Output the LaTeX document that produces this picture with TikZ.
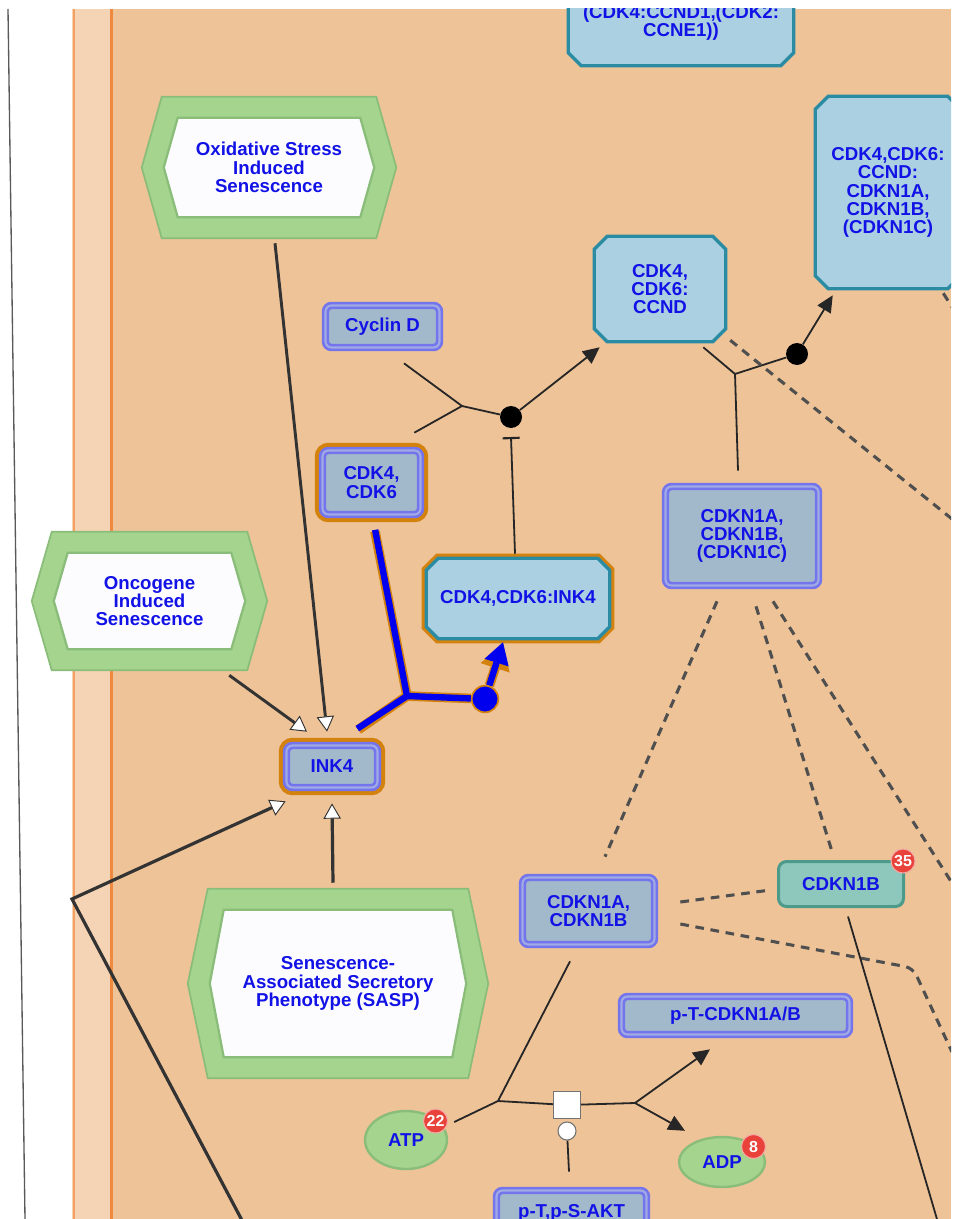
\documentclass[tikz,border=0pt]{standalone}
\usepackage{fontspec}
\setmainfont{Liberation Sans}
\usetikzlibrary{calc,arrows.meta,shapes.geometric}
\pgfdeclarelayer{bg}
\pgfsetlayers{bg,main}
\definecolor{bgor}{HTML}{EEC398}
\definecolor{strip}{HTML}{F5D4B6}
\definecolor{stripln}{HTML}{F4A060}
\definecolor{stripln2}{HTML}{EE8A40}
\definecolor{txtb}{HTML}{1212E6}
\definecolor{gpfill}{HTML}{A2B9CC}
\definecolor{gpline}{HTML}{7474EC}
\definecolor{gpgap}{HTML}{A0AAE4}
\definecolor{orb}{HTML}{D4820E}
\definecolor{cxfill}{HTML}{ABD0E2}
\definecolor{cxline}{HTML}{2A8BA2}
\definecolor{hgfill}{HTML}{A4D48E}
\definecolor{hgline}{HTML}{8BBD7A}
\definecolor{hwfill}{HTML}{FCFCFF}
\definecolor{tlfill}{HTML}{8EC7BC}
\definecolor{tlline}{HTML}{4C9B8A}
\definecolor{badge}{HTML}{E8423A}
\definecolor{edgec}{HTML}{333333}
\definecolor{dashc}{HTML}{4F4F4F}
\definecolor{bl}{HTML}{0000EE}
\newcommand\octof[3][]{%
  \path[oct,#1] ($(#2.north west)+(#3,0)$) -- ($(#2.north east)+(-#3,0)$) -- ($(#2.north east)+(0,#3)$) -- ($(#2.south east)+(0,-#3)$) -- ($(#2.south east)+(-#3,0)$) -- ($(#2.south west)+(#3,0)$) -- ($(#2.south west)+(0,-#3)$) -- ($(#2.north west)+(0,#3)$) -- cycle;}
\newcommand\hexof[1]{%
  \path[hexout] (#1.west) -- ($(#1.north west)+(20,0)$) -- ($(#1.north east)+(-20,0)$) -- (#1.east) -- ($(#1.south east)+(-20,0)$) -- ($(#1.south west)+(20,0)$) -- cycle;
  \path[hexin] ($(#1.west)+(22,0)$) -- ($(#1.north west)+(36,21)$) -- ($(#1.north east)+(-36,21)$) -- ($(#1.east)+(-22,0)$) -- ($(#1.south east)+(-36,-21)$) -- ($(#1.south west)+(36,-21)$) -- cycle;}
\begin{document}
\begin{tikzpicture}[x=0.75pt,y=-0.75pt,
  every node/.style={font=\fontsize{14}{13.8}\selectfont\bfseries, text=txtb, inner sep=0pt, align=center},
  wh/.style 2 args={minimum width=#1*0.75pt, minimum height=#2*0.75pt},
  gp/.style={rectangle, rounded corners=4.5pt, fill=gpfill, draw=gpline, double=gpgap, line width=2pt, double distance=1.6pt},
  gpo/.style={gp, preaction={draw=orb, line width=11.5pt}},
  oct/.style={fill=cxfill, draw=cxline, line width=2.5pt},
  hexout/.style={fill=hgfill, draw=hgline, line width=1.3pt},
  hexin/.style={fill=hwfill, draw=hgline, line width=1.7pt},
  tl/.style={rectangle, rounded corners=6pt, fill=tlfill, draw=tlline, line width=2.25pt},
  mol/.style={ellipse, fill=hgfill, draw=hgline, line width=1.8pt},
  bdg/.style={circle, fill=badge, draw=white!55!badge, line width=0.8pt, minimum size=18pt, text=white, font=\fontsize{12}{12}\selectfont\bfseries},
  cn/.style={draw=edgec, line width=2.2pt},
  thinl/.style={draw=black!85, line width=1.35pt},
  dsh/.style={draw=dashc, line width=2.3pt, dash pattern=on 6.5pt off 5pt},
  oarr/.style={-{Triangle[length=11.5pt,width=13pt,fill=white,line width=0.7pt]}},
  barr/.style={-{Triangle[length=12.5pt,width=11.5pt]}},
  dotc/.style={circle, fill=black, minimum size=16.5pt}
]
\useasboundingbox (0,0) rectangle (962,1219);
\begin{pgfonlayer}{bg}
  \fill[white] (0,0) rectangle (962,1219);
  \fill[bgor] (72,9) rectangle (951,1219);
  \fill[strip] (72,9) rectangle (111,1219);
  \draw[stripln, line width=1.5pt] (73.5,9) -- (73.5,1219);
  \draw[stripln2, line width=1.9pt] (111.5,9) -- (111.5,1219);
  \draw[black!65, line width=1pt] (8,9) -- (25,1219);
\end{pgfonlayer}
\begin{scope}
\clip (0,9) rectangle (951,1219);
% hexagon phenotypes
\node[wh={254}{141}] (ox) at (269,167.5) {Oxidative Stress\\Induced\\Senescence};
\node[wh={235}{138}] (onc) at (149.5,601) {Oncogene\\Induced\\Senescence};
\node[wh={300}{189}] (sasp) at (338,983.5) {Senescence-\\Associated Secretory\\Phenotype (SASP)};
% complexes (octagons)
\node[wh={225}{115.5}] (ctop) at (681,7.75) {};
\node (ctoptxt) at (681,22.5) {(CDK4:CCND1,(CDK2:\\CCNE1))};
\node[wh={131}{105}] (ccnd) at (660,289) {CDK4,\\CDK6:\\CCND};
\node[wh={145}{192}] (cbig) at (888,192.5) {CDK4,CDK6:\\CCND:\\CDKN1A,\\CDKN1B,\\(CDKN1C)};
\node[wh={183}{80}] (cink) at (518,598.5) {CDK4,CDK6:INK4};
% gene product groups
\node[gp, wh={114}{42}] (cyc) at (382.5,326.5) {Cyclin D};
\node[gpo, wh={98}{64}] (cdk) at (371.5,482.5) {CDK4,\\CDK6};
\node[gpo, wh={91}{42}] (ink4) at (332,766.5) {INK4};
\node[gp, wh={153}{99}] (ckin3) at (742,536) {CDKN1A,\\CDKN1B,\\(CDKN1C)};
\node[gp, wh={132}{67}] (ckin2) at (588.5,911) {CDKN1A,\\CDKN1B};
\node[gp, wh={228}{38}] (ptck) at (735.5,1015.5) {p-T-CDKN1A/B};
\node[gp, wh={150}{44}] (akt) at (571.5,1212.5) {p-T,p-S-AKT};
\node[tl, wh={125}{45}] (ck1b) at (841,884) {CDKN1B};
\node[mol, wh={82}{58}] (atp) at (406,1140) {ATP};
\node[mol, wh={86}{50}] (adp) at (722,1162) {ADP};
\node[bdg] (b35) at (903,861) {35};
\node[bdg] (b22) at (435.5,1121) {22};
\node[bdg] (b8) at (753.5,1146.5) {8};
% shapes behind the texts
\begin{pgfonlayer}{bg}
\begin{scope}
\clip (0,9) rectangle (951,1219);
\octof{ctop}{13}
\octof{ccnd}{13}
\octof{cbig}{13}
\octof[preaction={draw=orb,line width=7pt}]{cink}{12}
\hexof{ox}
\hexof{onc}
\hexof{sasp}
\end{scope}
\end{pgfonlayer}
% stimulations into INK4
\coordinate (lv) at (72,899);
\coordinate (lb) at (245,1226);
\draw[cn, oarr] ($(ox.south)+(6,5)$) -- ($(ink4.north)+(-5,-12.5)$);
\draw[cn, oarr] ($(onc.south east)+(-38,5)$) -- ($(ink4.north)+(-25,-12.5)$);
\draw[cn, line width=2.4pt, oarr] ($(sasp.north)+(-5,-6)$) -- ($(ink4.south)+(0,14.5)$);
\draw[cn, line width=2.4pt, oarr] (lb) -- (lv) -- ($(ink4.south west)+(0.5,12.5)$);
% blue binding CDK4,CDK6 + INK4
\coordinate (jb) at (407,696);
\node[circle, fill=bl, draw=orb, line width=1.3pt, minimum size=20pt] (cb) at (485,699) {};
\draw[orb, line width=7.2pt, line join=round] ($(cdk.south)+(3.5,15.5)$) -- (jb) -- ($(ink4.north east)+(-20.5,-14.5)$);
\draw[orb, line width=7.2pt] (jb) -- (cb);
\draw[orb, line width=7.2pt, -{Triangle[length=19pt,width=23pt,line width=0pt]}] (cb) -- ($(cink.south)+(-15,5)$);
\draw[bl, line width=4.8pt, line join=round] ($(cdk.south)+(3.6,14)$) -- (jb) -- ($(ink4.north east)+(-21.5,-15.5)$);
\draw[bl, line width=4.8pt] (jb) -- (cb);
\draw[bl, line width=4.8pt, -{Triangle[length=16pt,width=19pt,line width=0pt]}] (cb) -- ($(cink.south)+(-15,3.5)$);
% Cyclin D + CDK4,CDK6 binding
\coordinate (j1) at (462,406);
\node[dotc] (c1) at (511,417) {};
\draw[thinl] ($(cyc.south)+(21.5,14.5)$) -- (j1) -- ($(cdk.north east)+(-7.5,-16.5)$);
\draw[thinl] (j1) -- (c1);
\draw[thinl, barr] (c1) -- ($(ccnd.south west)+(5.5,5.5)$);
\coordinate (tb) at (511,437);
\draw[thinl, -{Bar[width=12.75pt,line width=1.6pt]}] ($(cink.north)+(-3,-4.5)$) -- (tb);
% CCND + CDKN1 binding
\coordinate (j2) at (735,374);
\node[dotc] (c2) at (797,354) {};
\draw[thinl] ($(ccnd.south east)+(-22.5,5.5)$) -- (j2) -- ($(ckin3.north)+(-4,-14.5)$);
\draw[thinl] (j2) -- (c2);
\draw[thinl, barr] (c2) -- ($(cbig.south west)+(17.5,6.5)$);
% dashed relations
\coordinate (d1e) at (952,519);
\coordinate (d1be) at (952,307);
\coordinate (d4e) at (952,883);
\coordinate (d6k) at (913,968);
\coordinate (d6e) at (952,1052);
\draw[dsh] ($(ccnd.south east)+(4.5,-1.5)$) -- (d1e);
\draw[dsh] ($(cbig.south east)+(-17.5,4.5)$) -- (d1be);
\draw[dsh] ($(ckin3.south)+(-25,14.5)$) -- ($(ckin2.north)+(16.5,-19.5)$);
\draw[dsh] ($(ckin3.south)+(14,19.5)$) -- ($(ck1b.north)+(-9,-8.5)$);
\draw[dsh] ($(ckin3.south)+(31,14.5)$) -- (d4e);
\draw[dsh] ($(ckin2.east)+(24.5,-9)$) -- ($(ck1b.west)+(-6.5,6)$);
\draw[dsh, rounded corners=6pt] ($(ckin2.east)+(24.5,13)$) -- (d6k) -- (d6e);
\coordinate (lbe) at (939,1226);
\draw[thinl] ($(ck1b.south)+(7,8.5)$) -- (lbe);
% phosphorylation
\coordinate (jp) at (498,1101);
\coordinate (jq) at (635,1103);
\node[draw=black!55, fill=white, line width=0.8pt, minimum size=20.25pt] (sq) at (567,1105) {};
\node[circle, draw=black!55, fill=white, line width=0.8pt, minimum size=13.5pt] (sc) at (567,1131) {};
\draw[thinl] ($(ckin2.south)+(-18.5,15.5)$) -- (jp) -- ($(atp.east)+(6,-18)$);
\draw[thinl] (jp) -- (sq) -- (jq);
\draw[thinl, barr] (jq) -- ($(ptck.south)+(-25.5,13.5)$);
\draw[thinl, barr] (jq) -- ($(adp.north)+(-37,-5)$);
\draw[thinl] ($(akt.north)+(-2.5,-17.5)$) -- (sc);
\end{scope}
\end{tikzpicture}
\end{document}
